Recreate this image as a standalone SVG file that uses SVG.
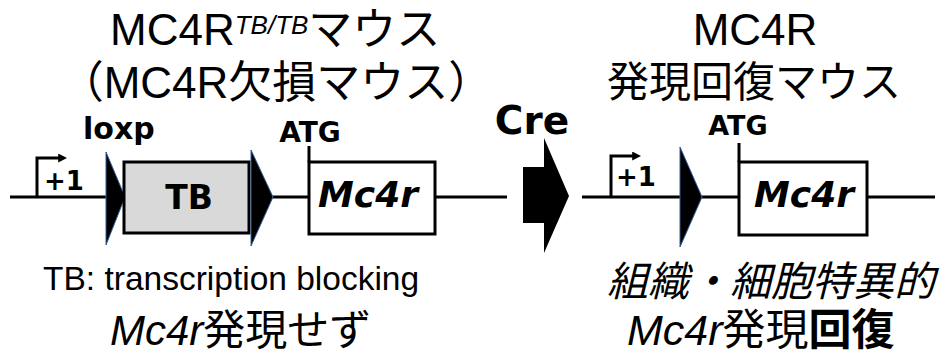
<svg xmlns="http://www.w3.org/2000/svg" width="946" height="355" viewBox="0 0 946 355">
<style>
.ln{stroke:#000;stroke-width:3;fill:none}
.box{stroke:#000;stroke-width:3;fill:#fff}
.tb{stroke:#000;stroke-width:3;fill:#d9d9d9}
.lox{fill:#000;stroke:#2e5c9a;stroke-width:1}
.lab{font-family:"DejaVu Sans",Verdana,sans-serif;font-weight:bold;fill:#000}
.gene{font-family:"DejaVu Sans",Verdana,sans-serif;font-weight:bold;font-style:italic;fill:#000}
.ttl{font-family:"Liberation Sans","Noto Sans CJK JP",sans-serif;fill:#000}
</style>
<defs>
<marker id="ah" viewBox="0 0 10 10" refX="2" refY="5" markerWidth="3" markerHeight="3" orient="auto" markerUnits="strokeWidth">
<path d="M0,0 L10,5 L0,10 z" fill="#000"/>
</marker>
</defs>
<g id="connectors">
<line class="ln" x1="10" y1="197" x2="106" y2="197"/>
<line class="ln" x1="273" y1="197" x2="309" y2="197"/>
<line class="ln" x1="435" y1="197" x2="507" y2="197"/>
<line class="ln" x1="582" y1="197" x2="680" y2="197"/>
<line class="ln" x1="702" y1="197" x2="739" y2="197"/>
<line class="ln" x1="867" y1="197" x2="935" y2="197"/>
</g>
<g id="title-left">
<text class="ttl" x="110" y="45" font-size="44">MC4R<tspan font-size="26" font-style="italic" dy="-11">TB/TB</tspan><tspan dy="11">マウス</tspan></text>
<text class="ttl" x="276" y="98" font-size="44" text-anchor="middle">（MC4R欠損マウス）</text>
</g>
<g id="title-right">
<text class="ttl" x="755" y="45" font-size="44" text-anchor="middle">MC4R</text>
<text class="ttl" x="754" y="97" font-size="42" text-anchor="middle">発現回復マウス</text>
</g>
<g id="promoter-left">
<path class="ln" d="M37,197 V158 H60" marker-end="url(#ah)"/>
<text class="lab" x="44" y="190" font-size="26">+1</text>
</g>
<g id="loxp-label">
<text class="lab" x="83" y="139" font-size="30">loxp</text>
</g>
<g id="loxp1">
<polygon class="lox" points="106,152 106,245 125,197"/>
</g>
<g id="tb-box">
<rect class="tb" x="124" y="162" width="125" height="71"/>
<text class="lab" x="189" y="209" font-size="33" text-anchor="middle">TB</text>
</g>
<g id="loxp2">
<polygon class="lox" points="251,150 251,246 273,197"/>
</g>
<g id="mc4r-left">
<line class="ln" x1="309" y1="146" x2="309" y2="162"/>
<rect class="box" x="309" y="162" width="126" height="72"/>
<text class="gene" x="368" y="207" font-size="36" text-anchor="middle">Mc4r</text>
<text class="lab" x="310" y="142" font-size="28" text-anchor="middle">ATG</text>
</g>
<g id="cre">
<polygon fill="#000" points="523,167 544,167 544,138 569,196 544,253 544,223 523,223"/>
<text class="lab" x="532" y="134" font-size="39" text-anchor="middle">Cre</text>
</g>
<g id="promoter-right">
<path class="ln" d="M611,197 V156 H634" marker-end="url(#ah)"/>
<text class="lab" x="616" y="186" font-size="26">+1</text>
</g>
<g id="loxp3">
<polygon class="lox" points="680,147 680,247 702,197"/>
</g>
<g id="mc4r-right">
<line class="ln" x1="739" y1="143" x2="739" y2="162"/>
<rect class="box" x="739" y="162" width="128" height="73"/>
<text class="gene" x="804" y="207" font-size="36" text-anchor="middle">Mc4r</text>
<text class="lab" x="738" y="135" font-size="27" text-anchor="middle">ATG</text>
</g>
<g id="caption-left">
<text class="ttl" x="43" y="290" font-size="33.5">TB: transcription blocking</text>
<text class="ttl" x="110" y="345" font-size="42"><tspan font-style="italic">Mc4r</tspan>発現せず</text>
</g>
<g id="caption-right">
<text class="ttl" x="607" y="296" font-size="41" font-style="italic">組織・細胞特異的</text>
<text class="ttl" x="627" y="345" font-size="43"><tspan font-style="italic">Mc4r</tspan>発現<tspan font-weight="bold">回復</tspan></text>
</g>
</svg>
